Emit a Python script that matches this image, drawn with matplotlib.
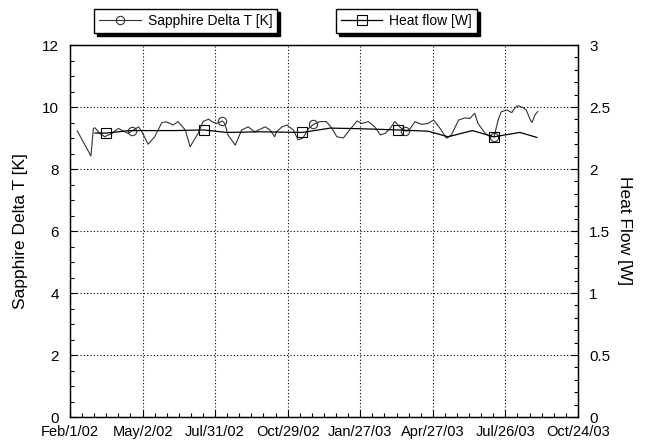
import numpy as np
import matplotlib
matplotlib.use("Agg")
import matplotlib.pyplot as plt
from matplotlib.ticker import MultipleLocator

plt.rcParams['font.family'] = ['Liberation Sans', 'DejaVu Sans']

# days after Feb/1/02
dt_days = [9, 26, 29, 31, 37, 43, 52, 60, 66, 72, 77, 85, 89, 97, 105, 114, 120,
           128, 134, 143, 149, 159, 165, 172, 176, 182, 189, 192, 196, 205, 213,
           221, 229, 242, 248, 254, 256, 263, 269, 277, 283, 289, 296, 302, 310,
           318, 325, 331, 339, 345, 356, 362, 370, 378, 385, 391, 397, 403, 409,
           415, 420, 428, 436, 444, 451, 459, 467, 473, 482, 490, 496, 502, 506,
           515, 521, 526, 531, 535, 542, 548, 552, 556, 562, 566, 571, 573, 577,
           580]
dt_vals = [9.23, 8.42, 9.31, 9.33, 9.15, 9.04, 9.15, 9.31, 9.23, 9.15, 9.23,
           9.36, 9.21, 8.80, 9.04, 9.50, 9.52, 9.42, 9.53, 9.26, 8.72, 9.15,
           9.53, 9.61, 9.53, 9.47, 9.55, 9.47, 9.10, 8.77, 9.26, 9.36, 9.20,
           9.36, 9.26, 9.04, 9.20, 9.36, 9.42, 9.26, 8.94, 9.00, 9.31, 9.44,
           9.53, 9.53, 9.31, 9.04, 9.00, 9.20, 9.55, 9.47, 9.53, 9.36, 9.10,
           9.15, 9.31, 9.53, 9.36, 9.23, 9.23, 9.53, 9.44, 9.47, 9.58, 9.31,
           8.99, 9.10, 9.58, 9.65, 9.63, 9.80, 9.47, 9.15, 9.04, 9.04, 9.58,
           9.85, 9.90, 9.82, 9.98, 10.04, 9.98, 9.90, 9.58, 9.50, 9.76, 9.85]
dt_marker_days = [77, 189, 302, 415, 526]

hf_days = [31, 45, 74, 130, 166, 194, 236, 288, 323, 360, 407, 444, 469, 499,
           526, 558, 579]
hf_vals = [2.29, 2.29, 2.31, 2.31, 2.315, 2.295, 2.30, 2.295, 2.33, 2.325,
           2.315, 2.305, 2.26, 2.31, 2.26, 2.295, 2.255]
hf_marker_days = [45, 166, 288, 407, 526]

tick_days = [0, 90, 180, 270, 360, 450, 540, 630]
tick_labels = ["Feb/1/02", "May/2/02", "Jul/31/02", "Oct/29/02", "Jan/27/03",
               "Apr/27/03", "Jul/26/03", "Oct/24/03"]
hf_ticks = [0, 0.5, 1, 1.5, 2, 2.5, 3]
hf_tick_labels = ['0', '0.5', '1', '1.5', '2', '2.5', '3']

fig = plt.figure(figsize=(6.45, 4.44), dpi=100)
ax = fig.add_axes([0.1085, 0.0608, 0.7875, 0.8378])
ax2 = ax.twinx()

dt_mark = [dt_days.index(d) for d in dt_marker_days]
hf_mark = [hf_days.index(d) for d in hf_marker_days]

l1, = ax.plot(dt_days, dt_vals, color='#333333', lw=0.8, marker='o',
              markevery=dt_mark, ms=6, mfc='none', mec='#333333', mew=0.8)
l2, = ax2.plot(hf_days, hf_vals, color='black', lw=0.9, marker='s',
               markevery=hf_mark, ms=7, mfc='none', mec='black', mew=0.8)

ax.set_xlim(0, 630)
ax.set_ylim(0, 12)
ax2.set_ylim(0, 3)
ax.set_xticks(tick_days)
ax.set_xticklabels(tick_labels)
ax.xaxis.set_minor_locator(MultipleLocator(15))
ax.yaxis.set_major_locator(MultipleLocator(2))
ax.yaxis.set_minor_locator(MultipleLocator(0.5))
ax2.set_yticks(hf_ticks)
ax2.set_yticklabels(hf_tick_labels)
ax2.yaxis.set_minor_locator(MultipleLocator(0.1))

ax.grid(True, which='major', linestyle=(0, (1, 2)), color='black', lw=0.8)
for a in (ax, ax2):
    a.tick_params(which='both', direction='in', labelsize=11, width=0.8)
    a.tick_params(which='major', length=5)
    a.tick_params(which='minor', length=3)
    for s in a.spines.values():
        s.set_linewidth(0.9)
ax.tick_params(axis='x', labelsize=10.5, pad=6)
ax.tick_params(axis='y', pad=8)
ax2.tick_params(axis='y', pad=8)

ax.set_ylabel("Sapphire Delta T [K]", fontsize=12.5, labelpad=10)
ax2.set_ylabel("Heat Flow [W]", fontsize=12.5, rotation=-90, labelpad=16)

shadow = {'color': 'black', 'alpha': 1}
fig.legend(handles=[l1], labels=["Sapphire Delta T [K]"], loc='center',
           bbox_to_anchor=(0.288, 0.953), fontsize=10, frameon=True,
           fancybox=False, shadow=shadow, edgecolor='black', framealpha=1,
           handlelength=3, borderpad=0.35, handletextpad=0.5)
fig.legend(handles=[l2], labels=["Heat flow [W]"], loc='center',
           bbox_to_anchor=(0.63, 0.953), fontsize=10, frameon=True,
           fancybox=False, shadow=shadow, edgecolor='black', framealpha=1,
           handlelength=3, borderpad=0.35, handletextpad=0.5)

fig.savefig("out.png", dpi=100)
